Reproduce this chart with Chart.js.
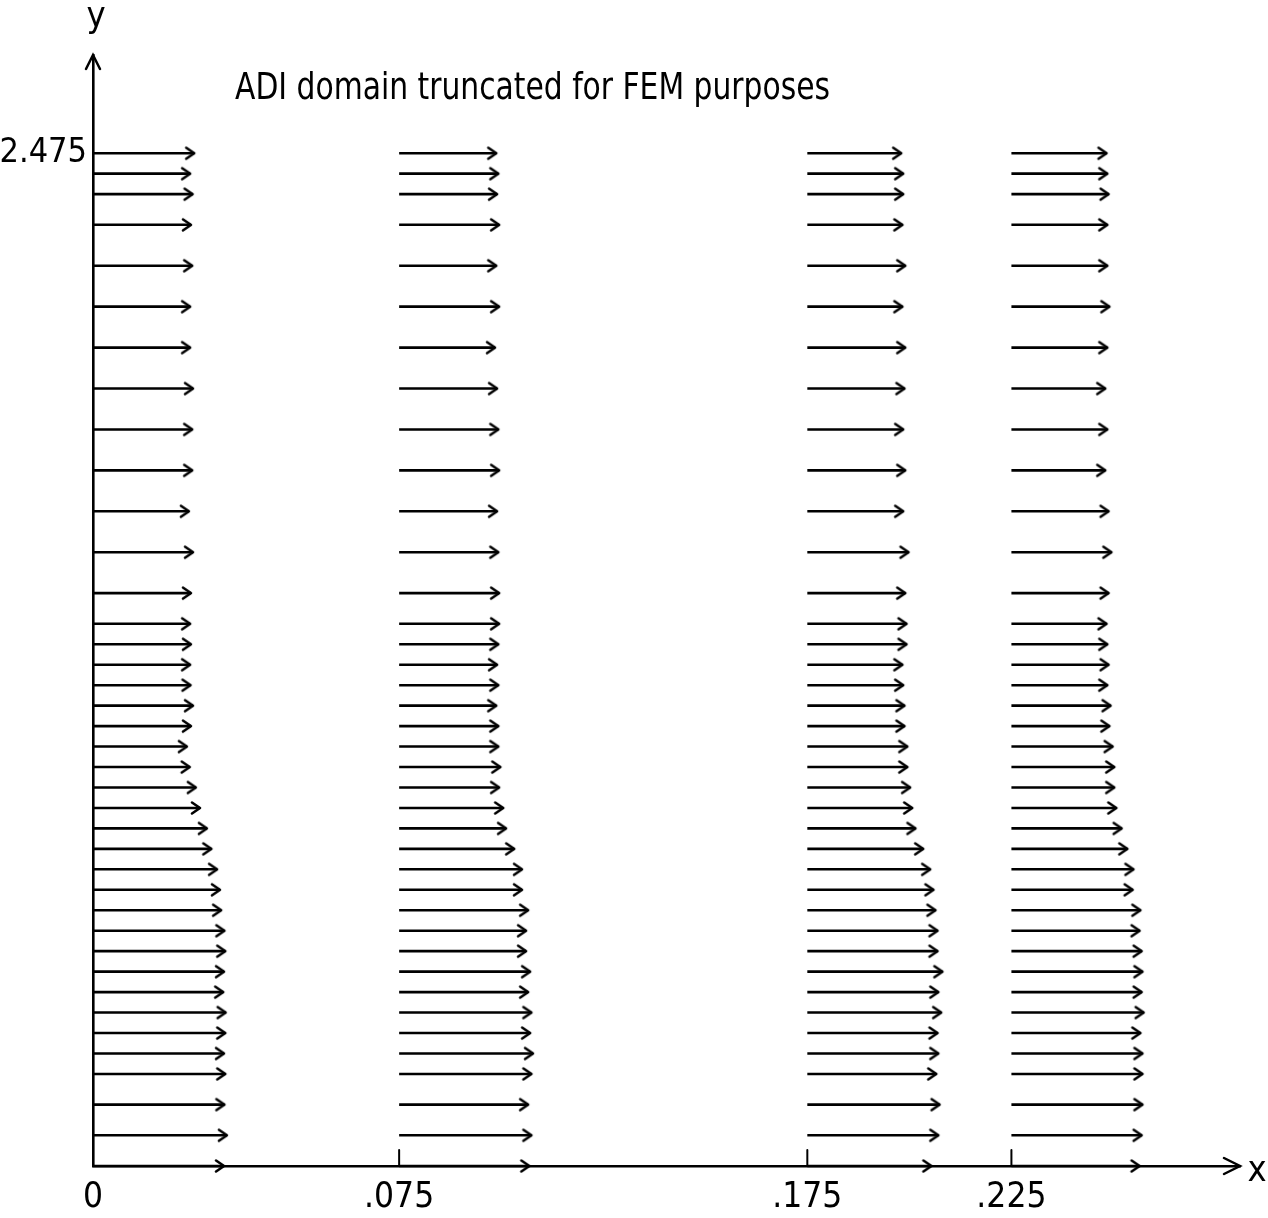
<!DOCTYPE html>
<html>
<head>
<meta charset="utf-8">
<title>ADI domain truncated for FEM purposes</title>
<script src="https://cdn.jsdelivr.net/npm/chart.js@4/dist/chart.umd.min.js"></script>
<style>
  html, body { margin: 0; padding: 0; background: #fff; }
  #wrap { width: 1268px; height: 1218px; }
</style>
</head>
<body>
<div id="wrap"><canvas id="flowChart" width="1268" height="1218"></canvas></div>
<script>
// columns of velocity arrows (x station of each column)
var columnX = [0, 0.075, 0.175, 0.225];

// y of each arrow row, top to bottom (last row lies on the x axis)
var rowY = [2.475, 2.425, 2.375, 2.3, 2.2, 2.1, 2.0, 1.9, 1.8, 1.7, 1.6, 1.5, 1.4,
            1.325, 1.275, 1.225, 1.175, 1.125, 1.075, 1.025, 0.975, 0.925, 0.875, 0.825,
            0.775, 0.725, 0.675, 0.625, 0.575, 0.525, 0.475, 0.425, 0.375, 0.325, 0.275,
            0.225, 0.15, 0.075, 0];

// arrow lengths (in x-axis units) for each column, same order as rowY
var lenCol1 = [0.0248, 0.0238, 0.0244, 0.0240, 0.0243, 0.0238, 0.0238, 0.0245, 0.0243, 0.0243,
               0.0235, 0.0245, 0.0240, 0.0238, 0.0240, 0.0238, 0.0239, 0.0245, 0.0240, 0.0230,
               0.0237, 0.0252, 0.0262, 0.0279, 0.0290, 0.0304, 0.0311, 0.0314, 0.0322, 0.0324,
               0.0321, 0.0319, 0.0325, 0.0324, 0.0321, 0.0324, 0.0322, 0.0328, 0.0321];
var lenCol2 = [0.0238, 0.0243, 0.0240, 0.0245, 0.0238, 0.0245, 0.0235, 0.0240, 0.0243, 0.0245,
               0.0240, 0.0243, 0.0245, 0.0245, 0.0243, 0.0240, 0.0243, 0.0238, 0.0243, 0.0243,
               0.0248, 0.0245, 0.0255, 0.0262, 0.0282, 0.0301, 0.0301, 0.0316, 0.0311, 0.0311,
               0.0321, 0.0316, 0.0324, 0.0321, 0.0328, 0.0324, 0.0316, 0.0324, 0.0319];
var lenCol3 = [0.0230, 0.0235, 0.0235, 0.0233, 0.0240, 0.0233, 0.0240, 0.0238, 0.0235, 0.0240,
               0.0235, 0.0248, 0.0240, 0.0243, 0.0243, 0.0233, 0.0235, 0.0238, 0.0238, 0.0245,
               0.0245, 0.0252, 0.0257, 0.0265, 0.0284, 0.0301, 0.0309, 0.0314, 0.0319, 0.0319,
               0.0331, 0.0321, 0.0328, 0.0319, 0.0321, 0.0316, 0.0324, 0.0321, 0.0304];
var lenCol4 = [0.0233, 0.0235, 0.0238, 0.0235, 0.0235, 0.0240, 0.0235, 0.0230, 0.0235, 0.0230,
               0.0238, 0.0245, 0.0238, 0.0233, 0.0235, 0.0238, 0.0235, 0.0243, 0.0240, 0.0248,
               0.0252, 0.0252, 0.0257, 0.0270, 0.0284, 0.0299, 0.0297, 0.0316, 0.0314, 0.0319,
               0.0321, 0.0319, 0.0324, 0.0316, 0.0321, 0.0321, 0.0321, 0.0319, 0.0314];

var xTicks = [0, 0.075, 0.175, 0.225];
var xTickLabels = ['0', '.075', '.175', '.225'];
var yTicks = [2.475];
var yTickLabels = ['2.475'];

var titleText = 'ADI domain truncated for FEM purposes';
var fontFamily = '"Liberation Sans Narrow", "DejaVu Sans Condensed", "Roboto Condensed", sans-serif';

// little open arrow head, tip sits in the middle of the canvas
function makeHead() {
    var c = document.createElement('canvas');
    c.width = 26;
    c.height = 18;
    var g = c.getContext('2d');
    g.strokeStyle = '#000';
    g.lineWidth = 2.6;
    g.lineCap = 'round';
    g.lineJoin = 'round';
    g.beginPath();
    g.moveTo(5, 3.5);
    g.lineTo(13, 9);
    g.lineTo(5, 14.5);
    g.stroke();
    return c;
}
var head = makeHead();

function arrowData(x0, lens) {
    var pts = [];
    for (var i = 0; i < rowY.length; i++) {
        pts.push({x: x0, y: rowY[i]});
        pts.push({x: x0 + lens[i], y: rowY[i]});
        pts.push({x: x0, y: null}); // break the line between arrows
    }
    return pts;
}

var lens = [lenCol1, lenCol2, lenCol3, lenCol4];
var datasets = columnX.map(function (x0, k) {
    return {
        label: 'x = ' + x0,
        data: arrowData(x0, lens[k]),
        showLine: true,
        spanGaps: false,
        borderColor: '#000',
        borderWidth: 2.6,
        clip: false,
        pointStyle: head,
        pointRadius: function (ctx) { return ctx.dataIndex % 3 === 1 ? 4 : 0; }
    };
});

// axis arrows, axis names, inner tick marks and the note
var decorations = {
    id: 'decorations',
    afterDraw: function (chart) {
        var ctx = chart.ctx;
        var area = chart.chartArea;
        var xs = chart.scales.x;
        var ys = chart.scales.y;
        ctx.save();
        ctx.strokeStyle = '#000';
        ctx.fillStyle = '#000';
        ctx.lineWidth = 2.5;
        ctx.lineCap = 'round';

        // y axis arrow head
        ctx.beginPath();
        ctx.moveTo(area.left - 7, area.top + 14);
        ctx.lineTo(area.left, area.top);
        ctx.lineTo(area.left + 7, area.top + 14);
        ctx.stroke();

        // x axis arrow head
        ctx.beginPath();
        ctx.moveTo(area.right - 16, area.bottom - 8);
        ctx.lineTo(area.right, area.bottom);
        ctx.lineTo(area.right - 16, area.bottom + 8);
        ctx.stroke();

        // small tick marks standing on the x axis
        ctx.lineWidth = 2;
        xTicks.forEach(function (v) {
            if (v === 0) return;
            var px = xs.getPixelForValue(v);
            ctx.beginPath();
            ctx.moveTo(px, area.bottom);
            ctx.lineTo(px, area.bottom - 16);
            ctx.stroke();
        });

        ctx.font = '36px ' + fontFamily;
        ctx.textBaseline = 'middle';
        ctx.textAlign = 'center';
        ctx.fillText('y', area.left + 3, 18);
        ctx.fillText('x', area.right + 17, area.bottom + 6);

        // the note is set in a tall, narrow hand, so squeeze it sideways
        ctx.font = '38px ' + fontFamily;
        ctx.textAlign = 'left';
        var tx = xs.getPixelForValue(0.0348);
        var ty = ys.getPixelForValue(2.632);
        var w = ctx.measureText(titleText).width;
        ctx.translate(tx, ty);
        ctx.scale(595 / w, 1);
        ctx.fillText(titleText, 0, 0);
        ctx.restore();
    }
};

new Chart(document.getElementById('flowChart'), {
    type: 'scatter',
    data: { datasets: datasets },
    options: {
        responsive: false,
        animation: false,
        events: [],
        layout: { padding: { top: 55, right: 28, left: 0, bottom: 0 } },
        plugins: {
            legend: { display: false },
            tooltip: { enabled: false },
            title: { display: false }
        },
        scales: {
            x: {
                type: 'linear',
                min: 0,
                max: 0.281,
                afterBuildTicks: function (s) { s.ticks = xTicks.map(function (v) { return {value: v}; }); },
                afterFit: function (s) { s.height = 52; },
                ticks: {
                    color: '#000',
                    padding: 11,
                    maxRotation: 0,
                    autoSkip: false,
                    font: { family: fontFamily, size: 35 },
                    callback: function (v, i) { return xTickLabels[i]; }
                },
                grid: { display: false, drawTicks: false },
                border: { display: true, color: '#000', width: 2.6 }
            },
            y: {
                type: 'linear',
                min: 0,
                max: 2.715,
                afterBuildTicks: function (s) { s.ticks = yTicks.map(function (v) { return {value: v}; }); },
                afterFit: function (s) { s.width = 93; },
                ticks: {
                    color: '#000',
                    padding: 6,
                    autoSkip: false,
                    font: { family: fontFamily, size: 34 },
                    callback: function (v, i) { return yTickLabels[i]; }
                },
                grid: { display: false, drawTicks: false },
                border: { display: true, color: '#000', width: 2.6 }
            }
        }
    },
    plugins: [decorations]
});
</script>
</body>
</html>
